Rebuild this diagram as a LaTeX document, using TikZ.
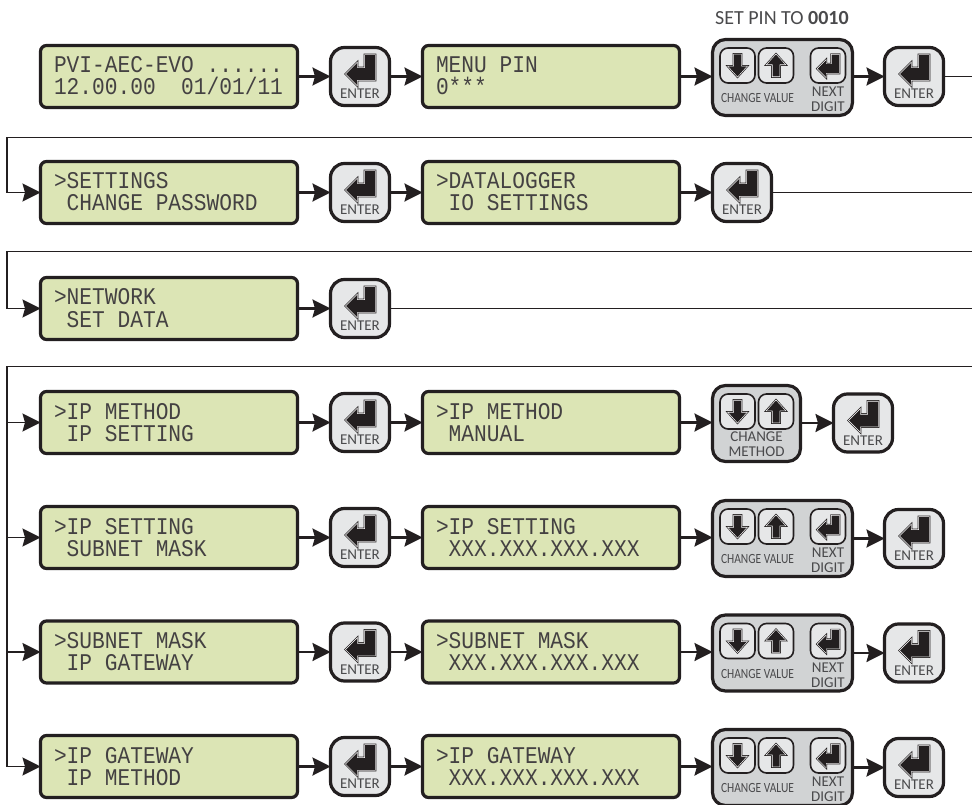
\documentclass[tikz,border=0pt]{standalone}
\usepackage{fontspec}
\usepackage{graphicx}
\setmainfont{Carlito}
\newfontfamily\lcdfont{Liberation Mono}
\usetikzlibrary{arrows.meta}
\definecolor{ink}{HTML}{231F20}
\definecolor{lcdgreen}{HTML}{DCE5B5}
\definecolor{keygrey}{HTML}{E6E7E8}
\definecolor{panelgrey}{HTML}{D1D3D4}
\definecolor{labelgrey}{HTML}{4A4A4C}
\tikzset{
  x=1pt,y=-1pt,
  lcd/.style={draw=ink,fill=lcdgreen,line width=3.2pt,rounded corners=6pt,minimum width=257pt,minimum height=62pt,inner sep=0pt,outer sep=0pt,text=ink!85},
  enterkey/.style={draw=ink,fill=keygrey,line width=3.2pt,rounded corners=14pt,minimum width=59pt,minimum height=58pt,inner sep=0pt,outer sep=0pt},
  smallkey/.style={draw=ink,fill=keygrey,line width=1.6pt,rounded corners=8pt,minimum width=35pt,minimum height=35pt,inner sep=0pt,outer sep=0pt},
  panelbox/.style={draw=ink,fill=panelgrey,line width=3.2pt,rounded corners=13pt,minimum height=76pt,inner sep=0pt,outer sep=0pt},
  keylabel/.style={text=labelgrey,font=\fontsize{15}{15}\selectfont,inner sep=0pt,align=center},
  flow/.style={draw=ink,line width=2.4pt,-{Stealth[length=18pt,width=18pt,inset=2.5pt]}},
  feed/.style={draw=ink,line width=1.8pt,-{Stealth[length=18pt,width=18pt,inset=2.5pt]}},
  rule/.style={draw=ink,line width=1.8pt},
}
\newcommand{\iconstroke}[1]{%
  \draw[ink,line width=2.6pt,line join=miter] #1;
  \draw[white,line width=1.2pt,line join=miter] #1;
  \fill[ink] #1;}
\tikzset{
  enterglyph/.pic={\iconstroke{(-14,-2.5) -- (-3,-13.5) -- (-3,-8.5) -- (5,-8.5) -- (5,-21.5) -- (15,-21.5) -- (15,3.5) -- (-3,3.5) -- (-3,8.5) -- cycle}},
  downglyph/.pic={\iconstroke{(-3.5,-11) -- (3.5,-11) -- (3.5,1) -- (9,1) -- (0,11) -- (-9,1) -- (-3.5,1) -- cycle}},
  upglyph/.pic={\iconstroke{(-3.5,11) -- (3.5,11) -- (3.5,-1) -- (9,-1) -- (0,-11) -- (-9,-1) -- (-3.5,-1) -- cycle}},
}
\newcommand{\lcdline}[1]{\smash{\scalebox{1}[1.13]{\fontsize{21.2}{22}\lcdfont #1}}}
\newcommand{\lcdbox}[5]{% name, cx, cy, line 1, line 2
  \node[lcd] (#1) at (#2,#3) {\parbox{230pt}{\baselineskip=22pt\lineskiplimit=-30pt
    \rule{0pt}{15pt}\lcdline{#4}\\\lcdline{#5}}};}
\newcommand{\enterkeybtn}[3]{% name, cx, cy
  \node[enterkey] (#1) at (#2,#3) {};
  \pic at (#2,#3) {enterglyph};
  \node[keylabel] (#1t) at (#2,#3+17.5) {ENTER};}
\newcommand{\keypair}[3]{% name, panel left x, panel cy
  \node[smallkey] (#1d) at (#2+26.5,#3-12) {};
  \pic at (#2+26.5,#3-12) {downglyph};
  \node[smallkey] (#1u) at (#2+65,#3-12) {};
  \pic at (#2+65,#3-12) {upglyph};}
\newcommand{\valuepanel}[3]{% name, cx, cy
  \node[panelbox,minimum width=140pt] (#1) at (#2,#3) {};
  \keypair{#1}{#2-71.5}{#3}
  \node[smallkey] (#1e) at (#2+45.5,#3-12) {};
  \pic[scale=.74] at (#2+45.5,#3-7) {enterglyph};
  \node[keylabel,font=\fontsize{14}{14}\selectfont] (#1a) at (#2-25,#3+21) {\scalebox{.82}[1]{CHANGE VALUE}};
  \node[keylabel,font=\fontsize{15}{15}\selectfont] (#1b) at (#2+45.5,#3+22) {NEXT\\DIGIT};}
\newcommand{\methodpanel}[3]{% name, cx, cy
  \node[panelbox,minimum width=88pt] (#1) at (#2,#3) {};
  \keypair{#1}{#2-45.5}{#3}
  \node[keylabel] (#1a) at (#2,#3+21) {CHANGE\\METHOD};}
\newcommand{\fullrow}[6]{% prefix, cy, text 1, text 2, text 3, text 4
  \lcdbox{#1a}{169}{#2}{#3}{#4}
  \enterkeybtn{#1b}{360}{#2}
  \lcdbox{#1c}{551}{#2}{#5}{#6}
  \draw[flow] (#1a) -- (#1b);
  \draw[flow] (#1b) -- (#1c);}
\begin{document}
\begin{tikzpicture}
\useasboundingbox (0,0) rectangle (972,805);
% Row 1
\node[keylabel,anchor=base west,font=\fontsize{20}{20}\selectfont] (pinlabel) at (715,25) {SET PIN TO \textbf{0010}};
\fullrow{a}{76.5}{PVI-AEC-EVO ......}{12.00.00~~01/01/11}{MENU PIN}{0***}
\valuepanel{ap}{782.5}{77.5}
\enterkeybtn{ae}{914}{76.5}
\coordinate (aout) at (972,76.5);
\draw[flow] (ac) -- (ac -| ap.west);
\draw[flow] (ae -| ap.east) -- (ae);
\draw[rule] (ae) -- (aout);
% Row 2
\coordinate (bin) at (972,137.5);
\coordinate (bturn) at (7,137.5);
\coordinate (bdown) at (7,192.5);
\coordinate (bout) at (972,192.5);
\fullrow{b}{192.5}{>SETTINGS}{~CHANGE PASSWORD}{>DATALOGGER}{~IO SETTINGS}
\enterkeybtn{be}{742}{192.5}
\draw[flow] (bc) -- (be);
\draw[rule] (be) -- (bout);
\draw[feed] (bin) -- (bturn) -- (bdown) -- (ba);
% Row 3
\coordinate (cin) at (972,251.5);
\coordinate (cturn) at (7,251.5);
\coordinate (cdown) at (7,308.5);
\coordinate (cout) at (972,308.5);
\lcdbox{ca}{169}{308.5}{>NETWORK}{~SET DATA}
\enterkeybtn{cb}{360}{308.5}
\draw[flow] (ca) -- (cb);
\draw[rule] (cb) -- (cout);
\draw[feed] (cin) -- (cturn) -- (cdown) -- (ca);
% Row 4
\coordinate (din) at (972,366.5);
\coordinate (dturn) at (7,366.5);
\coordinate (dj) at (7,422.5);
\fullrow{d}{422.5}{>IP METHOD}{~IP SETTING}{>IP METHOD}{~MANUAL}
\methodpanel{dp}{756.5}{423.5}
\enterkeybtn{de}{863}{423}
\draw[flow] (dc) -- (dc -| dp.west);
\draw[flow] (de -| dp.east) -- (de);
\draw[rule] (din) -- (dturn) -- (dj);
\draw[feed] (dj) -- (da);
% Row 5
\coordinate (ej) at (7,537.5);
\fullrow{e}{537.5}{>IP SETTING}{~SUBNET MASK}{>IP SETTING}{~XXX.XXX.XXX.XXX}
\valuepanel{ep}{782.5}{538.5}
\enterkeybtn{ee}{914}{538.5}
\draw[flow] (ec) -- (ec -| ep.west);
\draw[flow] (ee -| ep.east) -- (ee);
\draw[rule] (dj) -- (ej);
\draw[feed] (ej) -- (ea);
% Row 6
\coordinate (fj) at (7,652);
\fullrow{f}{652}{>SUBNET MASK}{~IP GATEWAY}{>SUBNET MASK}{~XXX.XXX.XXX.XXX}
\valuepanel{fp}{782.5}{653}
\enterkeybtn{fe}{914}{653}
\draw[flow] (fc) -- (fc -| fp.west);
\draw[flow] (fe -| fp.east) -- (fe);
\draw[rule] (ej) -- (fj);
\draw[feed] (fj) -- (fa);
% Row 7
\coordinate (gj) at (7,766.5);
\fullrow{g}{766.5}{>IP GATEWAY}{~IP METHOD}{>IP GATEWAY}{~XXX.XXX.XXX.XXX}
\valuepanel{gp}{782.5}{767.5}
\enterkeybtn{ge}{914}{767.5}
\draw[flow] (gc) -- (gc -| gp.west);
\draw[flow] (ge -| gp.east) -- (ge);
\draw[feed] (fj) -- (gj) -- (ga);
\end{tikzpicture}
\end{document}
